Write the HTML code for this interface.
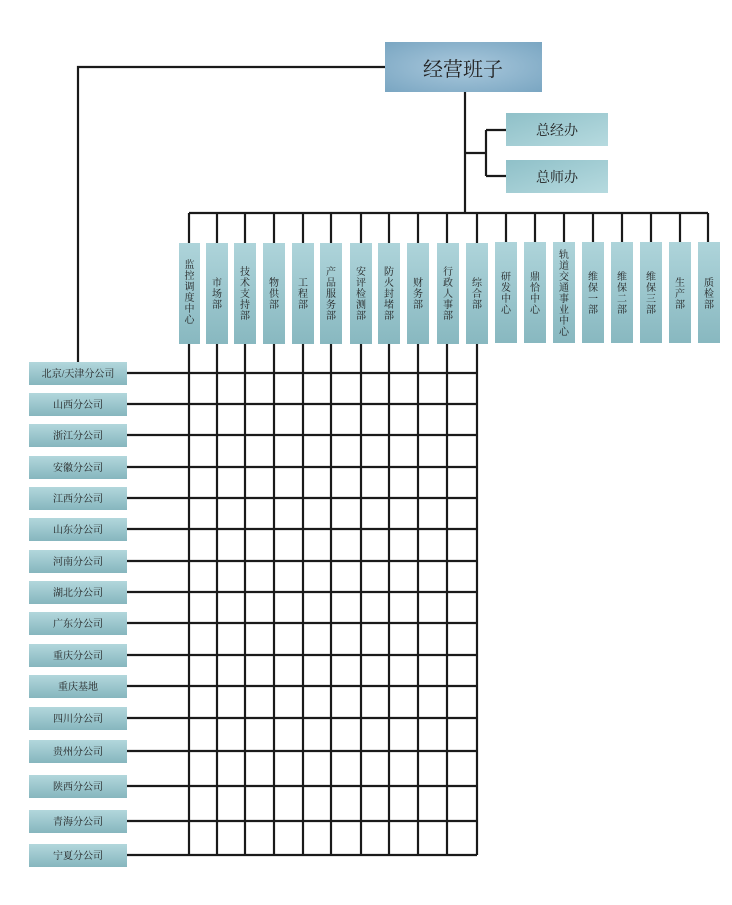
<!DOCTYPE html>
<html><head><meta charset="utf-8"><style>
body{margin:0;background:#fff;}
text{font-family:"Liberation Serif","Noto Serif CJK SC",serif;fill:#222;}
</style></head><body>
<svg width="732" height="900" viewBox="0 0 732 900" xmlns="http://www.w3.org/2000/svg">
<defs>
<linearGradient id="g" x1="0" y1="0" x2="0" y2="1"><stop offset="0" stop-color="#b2d7dc"/><stop offset="1" stop-color="#86b6be"/></linearGradient>
<linearGradient id="gv" x1="0" y1="0" x2="0" y2="1"><stop offset="0" stop-color="#aed4da"/><stop offset="1" stop-color="#88b8c0"/></linearGradient>
<radialGradient id="gt" cx="0.5" cy="0.5" r="0.7"><stop offset="0" stop-color="#a9c8dc"/><stop offset="1" stop-color="#7aa6c2"/></radialGradient>
<linearGradient id="gs" x1="0" y1="0" x2="1" y2="1"><stop offset="0" stop-color="#8fc0c8"/><stop offset="1" stop-color="#b6dadf"/></linearGradient>
</defs>
<g stroke="#1a1a1a" stroke-width="2.2" fill="none">
<path d="M385 67 H78 V362"/>
<path d="M465 92 V213"/>
<path d="M465 153 H486 M486 130 V176 M486 130 H506 M486 176 H506"/>
<path d="M189 213 H708"/>
<path d="M189 213V243 M217 213V243 M245 213V243 M274 213V243 M303 213V243 M331 213V243 M361 213V243 M389 213V243 M418 213V243 M447 213V243 M477 213V243 M506 213V243 M535 213V243 M564 213V243 M593 213V243 M622 213V243 M651 213V243 M680 213V243 M708 213V243"/>
<path d="M189 344V855 M217 344V855 M245 344V855 M274 344V855 M303 344V855 M331 344V855 M361 344V855 M389 344V855 M418 344V855 M447 344V855 M477 344V855"/>
<path d="M127 373H477 M127 404H477 M127 435H477 M127 467H477 M127 498H477 M127 529H477 M127 561H477 M127 592H477 M127 623H477 M127 655H477 M127 686H477 M127 718H477 M127 751H477 M127 786H477 M127 821H477 M127 855H477"/>
</g>
<rect x="385" y="42" width="157" height="50" fill="url(#gt)"/>
<text x="463" y="76" font-size="20" text-anchor="middle">经营班子</text>
<rect x="506" y="113" width="102" height="33" fill="url(#gs)"/>
<text x="557" y="135" font-size="14" text-anchor="middle">总经办</text>
<rect x="506" y="160" width="102" height="33" fill="url(#gs)"/>
<text x="557" y="182" font-size="14" text-anchor="middle">总师办</text>
<g font-size="10" text-anchor="middle">
<rect x="179" y="243" width="21" height="101" fill="url(#gv)"/>
<text x="189.5" y="268"><tspan x="189.5">监</tspan><tspan x="189.5" dy="11">控</tspan><tspan x="189.5" dy="11">调</tspan><tspan x="189.5" dy="11">度</tspan><tspan x="189.5" dy="11">中</tspan><tspan x="189.5" dy="11">心</tspan></text>
<rect x="206" y="243" width="22" height="101" fill="url(#gv)"/>
<text x="217" y="286"><tspan x="217">市</tspan><tspan x="217" dy="11">场</tspan><tspan x="217" dy="11">部</tspan></text>
<rect x="234" y="243" width="22" height="101" fill="url(#gv)"/>
<text x="245" y="275"><tspan x="245">技</tspan><tspan x="245" dy="11">术</tspan><tspan x="245" dy="11">支</tspan><tspan x="245" dy="11">持</tspan><tspan x="245" dy="11">部</tspan></text>
<rect x="263" y="243" width="22" height="101" fill="url(#gv)"/>
<text x="274" y="286"><tspan x="274">物</tspan><tspan x="274" dy="11">供</tspan><tspan x="274" dy="11">部</tspan></text>
<rect x="292" y="243" width="22" height="101" fill="url(#gv)"/>
<text x="303" y="286"><tspan x="303">工</tspan><tspan x="303" dy="11">程</tspan><tspan x="303" dy="11">部</tspan></text>
<rect x="320" y="243" width="22" height="101" fill="url(#gv)"/>
<text x="331" y="275"><tspan x="331">产</tspan><tspan x="331" dy="11">品</tspan><tspan x="331" dy="11">服</tspan><tspan x="331" dy="11">务</tspan><tspan x="331" dy="11">部</tspan></text>
<rect x="350" y="243" width="22" height="101" fill="url(#gv)"/>
<text x="361" y="275"><tspan x="361">安</tspan><tspan x="361" dy="11">评</tspan><tspan x="361" dy="11">检</tspan><tspan x="361" dy="11">测</tspan><tspan x="361" dy="11">部</tspan></text>
<rect x="378" y="243" width="22" height="101" fill="url(#gv)"/>
<text x="389" y="275"><tspan x="389">防</tspan><tspan x="389" dy="11">火</tspan><tspan x="389" dy="11">封</tspan><tspan x="389" dy="11">堵</tspan><tspan x="389" dy="11">部</tspan></text>
<rect x="407" y="243" width="22" height="101" fill="url(#gv)"/>
<text x="418" y="286"><tspan x="418">财</tspan><tspan x="418" dy="11">务</tspan><tspan x="418" dy="11">部</tspan></text>
<rect x="437" y="243" width="22" height="101" fill="url(#gv)"/>
<text x="448" y="275"><tspan x="448">行</tspan><tspan x="448" dy="11">政</tspan><tspan x="448" dy="11">人</tspan><tspan x="448" dy="11">事</tspan><tspan x="448" dy="11">部</tspan></text>
<rect x="466" y="243" width="22" height="101" fill="url(#gv)"/>
<text x="477" y="286"><tspan x="477">综</tspan><tspan x="477" dy="11">合</tspan><tspan x="477" dy="11">部</tspan></text>
<rect x="495" y="242" width="22" height="101" fill="url(#gv)"/>
<text x="506" y="280"><tspan x="506">研</tspan><tspan x="506" dy="11">发</tspan><tspan x="506" dy="11">中</tspan><tspan x="506" dy="11">心</tspan></text>
<rect x="524" y="242" width="22" height="101" fill="url(#gv)"/>
<text x="535" y="280"><tspan x="535">鼎</tspan><tspan x="535" dy="11">恰</tspan><tspan x="535" dy="11">中</tspan><tspan x="535" dy="11">心</tspan></text>
<rect x="553" y="242" width="22" height="101" fill="url(#gv)"/>
<text x="564" y="258"><tspan x="564">轨</tspan><tspan x="564" dy="11">道</tspan><tspan x="564" dy="11">交</tspan><tspan x="564" dy="11">通</tspan><tspan x="564" dy="11">事</tspan><tspan x="564" dy="11">业</tspan><tspan x="564" dy="11">中</tspan><tspan x="564" dy="11">心</tspan></text>
<rect x="582" y="242" width="22" height="101" fill="url(#gv)"/>
<text x="593" y="280"><tspan x="593">维</tspan><tspan x="593" dy="11">保</tspan><tspan x="593" dy="11">一</tspan><tspan x="593" dy="11">部</tspan></text>
<rect x="611" y="242" width="22" height="101" fill="url(#gv)"/>
<text x="622" y="280"><tspan x="622">维</tspan><tspan x="622" dy="11">保</tspan><tspan x="622" dy="11">二</tspan><tspan x="622" dy="11">部</tspan></text>
<rect x="640" y="242" width="22" height="101" fill="url(#gv)"/>
<text x="651" y="280"><tspan x="651">维</tspan><tspan x="651" dy="11">保</tspan><tspan x="651" dy="11">三</tspan><tspan x="651" dy="11">部</tspan></text>
<rect x="669" y="242" width="22" height="101" fill="url(#gv)"/>
<text x="680" y="286"><tspan x="680">生</tspan><tspan x="680" dy="11">产</tspan><tspan x="680" dy="11">部</tspan></text>
<rect x="698" y="242" width="22" height="101" fill="url(#gv)"/>
<text x="709" y="286"><tspan x="709">质</tspan><tspan x="709" dy="11">检</tspan><tspan x="709" dy="11">部</tspan></text>
</g>
<g font-size="10" text-anchor="middle">
<rect x="29" y="362" width="98" height="23" fill="url(#g)"/><text x="78" y="377">北京/天津分公司</text>
<rect x="29" y="393" width="98" height="23" fill="url(#g)"/><text x="78" y="408">山西分公司</text>
<rect x="29" y="424" width="98" height="23" fill="url(#g)"/><text x="78" y="439">浙江分公司</text>
<rect x="29" y="456" width="98" height="23" fill="url(#g)"/><text x="78" y="471">安徽分公司</text>
<rect x="29" y="487" width="98" height="23" fill="url(#g)"/><text x="78" y="502">江西分公司</text>
<rect x="29" y="518" width="98" height="23" fill="url(#g)"/><text x="78" y="533">山东分公司</text>
<rect x="29" y="550" width="98" height="23" fill="url(#g)"/><text x="78" y="565">河南分公司</text>
<rect x="29" y="581" width="98" height="23" fill="url(#g)"/><text x="78" y="596">湖北分公司</text>
<rect x="29" y="612" width="98" height="23" fill="url(#g)"/><text x="78" y="627">广东分公司</text>
<rect x="29" y="644" width="98" height="23" fill="url(#g)"/><text x="78" y="659">重庆分公司</text>
<rect x="29" y="675" width="98" height="23" fill="url(#g)"/><text x="78" y="690">重庆基地</text>
<rect x="29" y="707" width="98" height="23" fill="url(#g)"/><text x="78" y="722">四川分公司</text>
<rect x="29" y="740" width="98" height="23" fill="url(#g)"/><text x="78" y="755">贵州分公司</text>
<rect x="29" y="775" width="98" height="23" fill="url(#g)"/><text x="78" y="790">陕西分公司</text>
<rect x="29" y="810" width="98" height="23" fill="url(#g)"/><text x="78" y="825">青海分公司</text>
<rect x="29" y="844" width="98" height="23" fill="url(#g)"/><text x="78" y="859">宁夏分公司</text>
</g>
</svg>
</body></html>
